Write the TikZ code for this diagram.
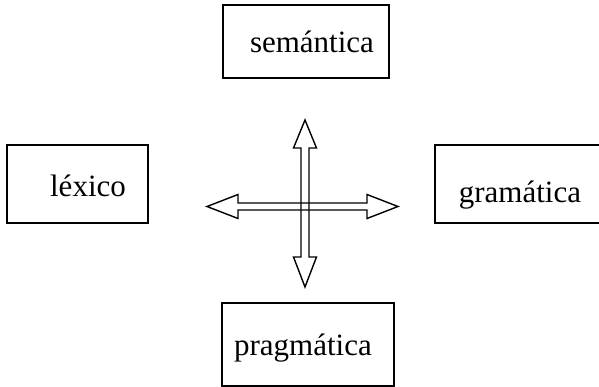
\documentclass[tikz,border=0pt]{standalone}
\usepackage{fontspec}
\setmainfont{Liberation Serif}
\begin{document}
\begin{tikzpicture}[x=1pt,y=-1pt,
  box/.style={draw,line width=1.6pt},
  lbl/.style={font=\fontsize{31}{36}\selectfont,anchor=base,inner sep=0pt},
  arr/.style={draw,line width=1.4pt,line join=miter}]
\useasboundingbox (0,0) rectangle (599,387);
\draw[box] (223,5) rectangle (389,78);
\draw[box] (7,145) rectangle (148,223);
\draw[box] (435,145) rectangle (600,223);
\draw[box] (222,303) rectangle (394,386);
\node[lbl] (sem) at (312,53) {semántica};
\node[lbl] (lex) at (88,197) {léxico};
\node[lbl] (gra) at (520,203) {gramática};
\node[lbl] (pra) at (303,355) {pragmática};
% vertical double arrow
\draw[arr] (305,120) -- (316.5,148) -- (309,148) -- (309,257) -- (316.5,257) -- (305,287)
  -- (293.5,257) -- (301,257) -- (301,148) -- (293.5,148) -- cycle;
% horizontal double arrow
\draw[arr] (207,206.5) -- (238,194.5) -- (238,203) -- (367,203) -- (367,194.5) -- (398,206.5)
  -- (367,218.5) -- (367,210) -- (238,210) -- (238,218.5) -- cycle;
\end{tikzpicture}
\end{document}
